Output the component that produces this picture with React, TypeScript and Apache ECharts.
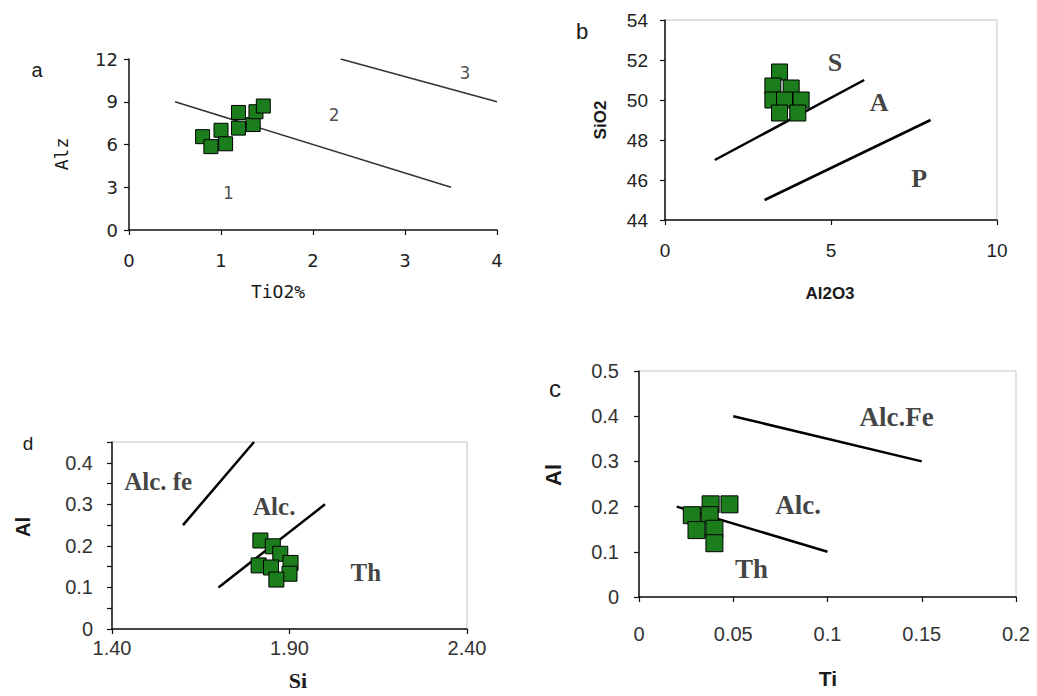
import { useEffect, useRef } from "react";
import * as echarts from "echarts";

// ---------- Panel a : Alz vs TiO2% ----------
const panelAPoints: [number, number][] = [
  [0.8, 6.55], [0.89, 5.85], [1.0, 7.0], [1.05, 6.05], [1.19, 7.15],
  [1.19, 8.25], [1.35, 7.4], [1.38, 8.3], [1.46, 8.7],
];
const panelALines: [number, number][][] = [
  [[0.5, 9], [3.5, 3]],
  [[2.3, 12], [4, 9]],
];
const panelAFields = [
  { text: "1", x: 1.08, y: 2.6 },
  { text: "2", x: 2.23, y: 8.1 },
  { text: "3", x: 3.65, y: 11.0 },
];

// ---------- Panel b : SiO2 vs Al2O3 ----------
const panelBPoints: [number, number][] = [
  [3.45, 51.4], [3.25, 50.7], [3.8, 50.6], [3.25, 50.0],
  [3.6, 50.0], [4.1, 50.0], [3.45, 49.35], [4.0, 49.35],
];
const panelBLines: [number, number][][] = [
  [[1.5, 47], [6, 51]],
  [[3, 45], [8, 49]],
];
const panelBFields = [
  { text: "S", x: 5.12, y: 51.9 },
  { text: "A", x: 6.45, y: 49.9 },
  { text: "P", x: 7.66, y: 46.1 },
];

// ---------- Panel d : Al vs Si ----------
const panelDPoints: [number, number][] = [
  [1.818, 0.213], [1.853, 0.199], [1.874, 0.181], [1.813, 0.153],
  [1.848, 0.148], [1.903, 0.159], [1.9, 0.133], [1.863, 0.119],
];
const panelDLines: [number, number][][] = [
  [[1.6, 0.25], [1.8, 0.45]],
  [[1.7, 0.1], [2.0, 0.3]],
];
const panelDFields = [
  { text: "Alc. fe", x: 1.53, y: 0.356 },
  { text: "Alc.", x: 1.857, y: 0.294 },
  { text: "Th", x: 2.115, y: 0.135 },
];
const panelDXTicks = [1.4, 1.9, 2.4];

// ---------- Panel c : Al vs Ti ----------
const panelCPoints: [number, number][] = [
  [0.038, 0.205], [0.048, 0.205], [0.028, 0.181], [0.0375, 0.181],
  [0.0305, 0.148], [0.04, 0.151], [0.04, 0.119],
];
const panelCLines: [number, number][][] = [
  [[0.05, 0.4], [0.15, 0.3]],
  [[0.02, 0.2], [0.1, 0.1]],
];
const panelCFields = [
  { text: "Alc.Fe", x: 0.1367, y: 0.398 },
  { text: "Alc.", x: 0.0844, y: 0.203 },
  { text: "Th", x: 0.0597, y: 0.063 },
];

const GREEN = "#1b7d1b";

function clean(v: number): string {
  return String(Math.round(v * 1000) / 1000);
}

function axis(
  gridIndex: number,
  min: number,
  max: number,
  interval: number,
  label: any,
  extra: any = {}
) {
  return {
    type: "value",
    gridIndex,
    min,
    max,
    interval,
    axisLine: { show: true, onZero: false, lineStyle: { color: "#111", width: 1.5 } },
    axisTick: { show: true, inside: false, length: 5, lineStyle: { color: "#111", width: 1.2 } },
    splitLine: { show: false },
    axisLabel: { formatter: (v: number) => clean(v), ...label },
    ...extra,
  };
}

function pointsSeries(idx: number, data: [number, number][], size: number) {
  return {
    type: "scatter",
    xAxisIndex: idx,
    yAxisIndex: idx,
    data,
    symbol: "rect",
    symbolSize: size,
    z: 5,
    itemStyle: { color: GREEN, borderColor: "#000", borderWidth: 1, opacity: 1 },
    silent: true,
  };
}

function lineSeries(idx: number, lines: [number, number][][], color: string, width: number) {
  return lines.map((l) => ({
    type: "line",
    xAxisIndex: idx,
    yAxisIndex: idx,
    data: l,
    symbol: "none",
    z: 3,
    lineStyle: { color, width },
    silent: true,
  }));
}

function fieldSeries(idx: number, fields: { text: string; x: number; y: number }[], font: any) {
  return {
    type: "scatter",
    xAxisIndex: idx,
    yAxisIndex: idx,
    data: fields.map((f) => ({ name: f.text, value: [f.x, f.y] })),
    symbolSize: 1,
    z: 6,
    itemStyle: { color: "rgba(0,0,0,0)" },
    label: { show: true, position: "inside", formatter: "{b}", ...font },
    silent: true,
  };
}

function text(t: string, x: number, y: number, font: any, rotation = 0) {
  return {
    type: "text",
    x,
    y,
    rotation,
    style: { text: t, align: "center", verticalAlign: "middle", fill: "#1a1a1a", ...font },
  };
}

const option: any = {
  animation: false,
  backgroundColor: "#fff",
  grid: [
    { left: 129, top: 59, width: 368, height: 171, show: false, outerBoundsMode: "none" },
    { left: 665, top: 20, width: 332, height: 200, show: true, borderColor: "#c4c4c4", borderWidth: 1, outerBoundsMode: "none" },
    { left: 112, top: 442, width: 355, height: 187, show: true, borderColor: "#c4c4c4", borderWidth: 1, outerBoundsMode: "none" },
    { left: 639, top: 371, width: 377, height: 226, show: true, borderColor: "#c4c4c4", borderWidth: 1, outerBoundsMode: "none" },
  ],
  xAxis: [
    axis(0, 0, 4, 1, { fontFamily: "DejaVu Sans", fontSize: 18, color: "#222", margin: 21 }),
    axis(1, 0, 10, 5, { fontFamily: "Liberation Sans", fontSize: 19, color: "#222", margin: 21 }),
    axis(
      2, 1.4, 2.4, 0.1,
      {
        fontFamily: "Liberation Sans", fontSize: 20, color: "#333", margin: 9,
        customValues: panelDXTicks,
        formatter: (v: number) => v.toFixed(2),
      },
      {
        axisTick: { show: true, inside: false, length: 5, customValues: panelDXTicks, lineStyle: { color: "#111", width: 1.2 } },
      }
    ),
    axis(3, 0, 0.2, 0.05, { fontFamily: "Liberation Sans", fontSize: 20, color: "#333", margin: 27 }),
  ],
  yAxis: [
    axis(0, 0, 12, 3, { fontFamily: "DejaVu Sans", fontSize: 18, color: "#222", margin: 11 }),
    axis(1, 44, 54, 2, { fontFamily: "Liberation Sans", fontSize: 19, color: "#222", margin: 17 }),
    axis(2, 0, 0.45, 0.05, {
      fontFamily: "Liberation Sans", fontSize: 20, color: "#333", margin: 19,
      formatter: (v: number) => {
        const r = Math.round(v * 100);
        return r % 10 === 0 ? clean(v) : "";
      },
    }),
    axis(3, 0, 0.5, 0.1, { fontFamily: "Liberation Sans", fontSize: 20, color: "#333", margin: 20 }),
  ],
  series: [
    ...lineSeries(0, panelALines, "#333", 1.6),
    pointsSeries(0, panelAPoints, 14),
    fieldSeries(0, panelAFields, { fontFamily: "DejaVu Sans", fontSize: 17, color: "#222" }),

    ...lineSeries(1, panelBLines, "#000", 2.5),
    pointsSeries(1, panelBPoints, 16),
    fieldSeries(1, panelBFields, { fontFamily: "Liberation Serif", fontWeight: "bold", fontSize: 26, color: "#111" }),

    ...lineSeries(2, panelDLines, "#000", 2.5),
    pointsSeries(2, panelDPoints, 15),
    fieldSeries(2, panelDFields, { fontFamily: "Liberation Serif", fontWeight: "bold", fontSize: 25, color: "#111" }),

    ...lineSeries(3, panelCLines, "#000", 2.5),
    pointsSeries(3, panelCPoints, 17),
    fieldSeries(3, panelCFields, { fontFamily: "Liberation Serif", fontWeight: "bold", fontSize: 27, color: "#111" }),
  ],
  graphic: [
    // panel a
    text("a", 37, 70, { fontFamily: "Liberation Sans", fontSize: 20 }),
    text("Alz", 61, 154, { fontFamily: "DejaVu Sans Mono", fontSize: 18 }, Math.PI / 2),
    text("TiO2%", 278, 291, { fontFamily: "DejaVu Sans Mono", fontSize: 18 }),
    // panel b
    text("b", 582, 31, { fontFamily: "Liberation Sans", fontSize: 22 }),
    text("SiO2", 600, 120, { fontFamily: "Liberation Sans", fontWeight: "bold", fontSize: 17 }, Math.PI / 2),
    text("Al2O3", 830, 293, { fontFamily: "Liberation Sans", fontWeight: "bold", fontSize: 17 }),
    // panel d
    text("d", 28, 443, { fontFamily: "Liberation Sans", fontSize: 19 }),
    text("Al", 23, 527, { fontFamily: "Liberation Sans", fontWeight: "bold", fontSize: 20 }, Math.PI / 2),
    text("Si", 298, 680, { fontFamily: "Liberation Serif", fontWeight: "bold", fontSize: 22 }),
    // panel c
    text("c", 555, 388, { fontFamily: "Liberation Sans", fontSize: 24 }),
    text("Al", 553, 475, { fontFamily: "Liberation Sans", fontWeight: "bold", fontSize: 22 }, Math.PI / 2),
    text("Ti", 828, 678, { fontFamily: "Liberation Sans", fontWeight: "bold", fontSize: 21 }),
  ],
};

export default function App() {
  const ref = useRef<HTMLDivElement>(null);
  useEffect(() => {
    document.body.style.margin = "0";
    const chart = echarts.init(ref.current!, null, { renderer: "svg" });
    chart.setOption(option);
    return () => chart.dispose();
  }, []);
  return <div ref={ref} style={{ width: 1037, height: 696 }} />;
}
